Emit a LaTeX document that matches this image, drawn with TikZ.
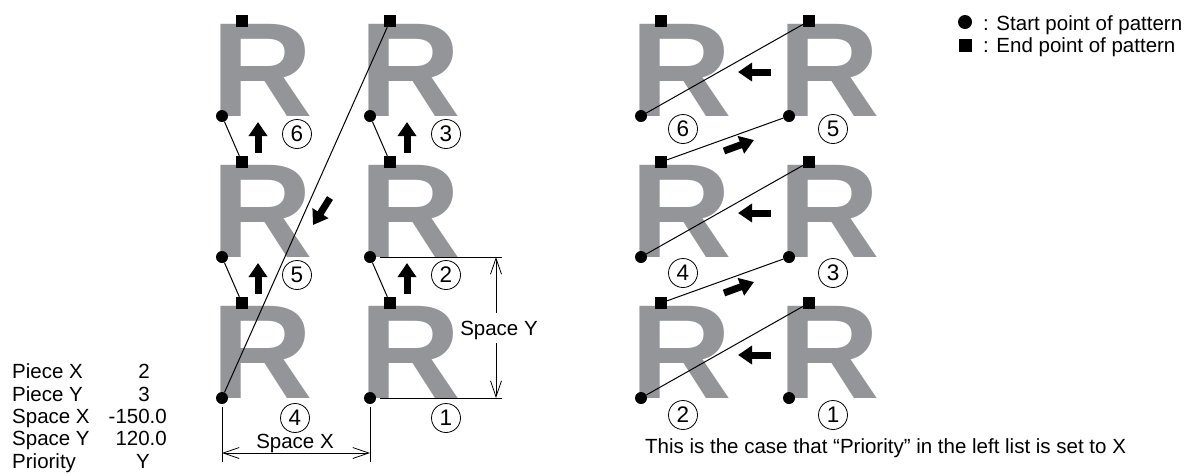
\documentclass[tikz,border=0pt]{standalone}
\usepackage{fontspec}
\setmainfont{Liberation Sans}
\usetikzlibrary{arrows.meta}
\definecolor{rgray}{RGB}{147,149,152}
\tikzset{
  Rglyph/.style={inner sep=0pt, anchor=base west, text=rgray, font=\fontsize{134}{134}\selectfont\bfseries},
  startpt/.style={circle, fill=black, inner sep=0pt, minimum size=12pt},
  endpt/.style={rectangle, fill=black, inner sep=0pt, minimum size=12pt},
  conn/.style={line width=1pt},
  bigarrow/.style={line width=7pt, -{Triangle[width=18pt,length=14pt]}},
  cring/.style={circle, draw, line width=0.8pt, minimum size=29pt, inner sep=0pt},
  cdigit/.style={inner sep=0pt, font=\fontsize{22.5}{22.5}\selectfont},
  dimline/.style={line width=0.8pt},
  dimarrow/.style={line width=0.8pt, {Straight Barb[length=16pt,width=11pt]}-{Straight Barb[length=16pt,width=11pt]}},
  dimtip/.style={line width=0.8pt, -{Straight Barb[length=16pt,width=11pt]}},
  lbl/.style={inner sep=0pt, font=\fontsize{20.5}{22}\selectfont},
}
\newcommand\Rglyphat[3]{\node[Rglyph] (#1) at ({#2-10.3},#3) {\scalebox{1.05}[1]{R}};}
\newcommand\cnumat[4]{\node[cring] (#1) at (#2,#3) {}; \node[cdigit] (#1t) at (#1.center) {#4};}
\begin{document}
\begin{tikzpicture}[x=1pt,y=-1pt]
\useasboundingbox (0,0) rectangle (1203,475);
% ---------- left layout ----------
\Rglyphat{laR1}{222}{116}
\Rglyphat{laR2}{222}{257}
\Rglyphat{laR3}{222}{398}
\Rglyphat{lbR1}{370}{116}
\Rglyphat{lbR2}{370}{257}
\Rglyphat{lbR3}{370}{398}
\node[startpt] (laS1) at (222,116) {};
\node[startpt] (laS2) at (222,257) {};
\node[startpt] (laS3) at (222,398) {};
\node[startpt] (lbS1) at (370,116) {};
\node[startpt] (lbS2) at (370,257) {};
\node[startpt] (lbS3) at (370,398) {};
\node[endpt] (laE1) at (242,21) {};
\node[endpt] (laE2) at (242,162) {};
\node[endpt] (laE3) at (242,303) {};
\node[endpt] (lbE1) at (390,21) {};
\node[endpt] (lbE2) at (390,162) {};
\node[endpt] (lbE3) at (390,303) {};
\draw[conn] (laS1) -- (laE2);
\draw[conn] (laS2) -- (laE3);
\draw[conn] (laS3) -- (lbE1);
\draw[conn] (lbS1) -- (lbE2);
\draw[conn] (lbS2) -- (lbE3);
\cnumat{ln6}{297}{134}{6}
\cnumat{ln5}{297}{275}{5}
\cnumat{ln4}{295}{418}{4}
\cnumat{ln3}{446}{134}{3}
\cnumat{ln2}{446}{275}{2}
\cnumat{ln1}{446}{418}{1}
\coordinate (lu1t) at (258,153); \coordinate (lu1h) at (258,122);
\coordinate (lu2t) at (258,294); \coordinate (lu2h) at (258,263);
\coordinate (lu3t) at (407,153); \coordinate (lu3h) at (407,122);
\coordinate (lu4t) at (407,294); \coordinate (lu4h) at (407,263);
\coordinate (ldt) at (330,198); \coordinate (ldh) at (313,225);
\draw[bigarrow] (lu1t) -- (lu1h);
\draw[bigarrow] (lu2t) -- (lu2h);
\draw[bigarrow] (lu3t) -- (lu3h);
\draw[bigarrow] (lu4t) -- (lu4h);
\draw[bigarrow] (ldt) -- (ldh);
% dimension Space X
\coordinate (sxa1) at (222,407); \coordinate (sxa2) at (222,462);
\coordinate (sxb1) at (370,407); \coordinate (sxb2) at (370,462);
\coordinate (sxl) at (222,453); \coordinate (sxr) at (370,453);
\draw[dimline] (sxa1) -- (sxa2);
\draw[dimline] (sxb1) -- (sxb2);
\draw[dimarrow] (sxl) -- (sxr);
\node[lbl, anchor=base] (sxt) at (295,448) {Space X};
% dimension Space Y
\coordinate (sya1) at (380,257); \coordinate (sya2) at (502,257);
\coordinate (syb1) at (380,398); \coordinate (syb2) at (502,398);
\coordinate (syt1) at (496,257); \coordinate (syt2) at (496,313);
\coordinate (syb3) at (496,343); \coordinate (syb4) at (496,398);
\draw[dimline] (sya1) -- (sya2);
\draw[dimline] (syb1) -- (syb2);
\draw[dimtip] (syt2) -- (syt1);
\draw[dimtip] (syb3) -- (syb4);
\node[lbl, anchor=base] (syt) at (499,335) {Space Y};
% list
\node[lbl, anchor=base west] (k1) at (12,378) {Piece X};
\node[lbl, anchor=base west] (k2) at (12,401) {Piece Y};
\node[lbl, anchor=base west] (k3) at (12,423) {Space X};
\node[lbl, anchor=base west] (k4) at (12,445) {Space Y};
\node[lbl, anchor=base west] (k5) at (12,468) {Priority};
\node[lbl, anchor=base east] (v1) at (150,378) {2};
\node[lbl, anchor=base east] (v2) at (150,401) {3};
\node[lbl, anchor=base east] (v3) at (167,423) {-150.0};
\node[lbl, anchor=base east] (v4) at (167,445) {120.0};
\node[lbl, anchor=base east] (v5) at (150,468) {Y};
% ---------- right layout ----------
\Rglyphat{raR1}{641}{116}
\Rglyphat{raR2}{641}{257}
\Rglyphat{raR3}{641}{398}
\Rglyphat{rbR1}{789}{116}
\Rglyphat{rbR2}{789}{257}
\Rglyphat{rbR3}{789}{398}
\node[startpt] (raS1) at (641,116) {};
\node[startpt] (raS2) at (641,257) {};
\node[startpt] (raS3) at (641,398) {};
\node[startpt] (rbS1) at (789,116) {};
\node[startpt] (rbS2) at (789,257) {};
\node[startpt] (rbS3) at (789,398) {};
\node[endpt] (raE1) at (661,21) {};
\node[endpt] (raE2) at (661,162) {};
\node[endpt] (raE3) at (661,303) {};
\node[endpt] (rbE1) at (809,21) {};
\node[endpt] (rbE2) at (809,162) {};
\node[endpt] (rbE3) at (809,303) {};
\draw[conn] (raS1) -- (rbE1);
\draw[conn] (rbS1) -- (raE2);
\draw[conn] (raS2) -- (rbE2);
\draw[conn] (rbS2) -- (raE3);
\draw[conn] (raS3) -- (rbE3);
\cnumat{rn6}{683}{129}{6}
\cnumat{rn5}{833}{129}{5}
\cnumat{rn4}{683}{273}{4}
\cnumat{rn3}{833}{273}{3}
\cnumat{rn2}{683}{415}{2}
\cnumat{rn1}{833}{415}{1}
\coordinate (rl1t) at (771,72); \coordinate (rl1h) at (738,72);
\coordinate (rl2t) at (771,213); \coordinate (rl2h) at (738,213);
\coordinate (rl3t) at (771,355); \coordinate (rl3h) at (738,355);
\coordinate (rr1t) at (724,151); \coordinate (rr1h) at (754,140);
\coordinate (rr2t) at (724,293); \coordinate (rr2h) at (754,282);
\draw[bigarrow] (rl1t) -- (rl1h);
\draw[bigarrow] (rl2t) -- (rl2h);
\draw[bigarrow] (rl3t) -- (rl3h);
\draw[bigarrow] (rr1t) -- (rr1h);
\draw[bigarrow] (rr2t) -- (rr2h);
\node[lbl, anchor=base west] (cap) at (645,453) {This is the case that “Priority” in the left list is set to X};
% legend
\node[startpt, minimum size=14pt] (lgS) at (965,22) {};
\node[endpt, minimum size=13pt] (lgE) at (965,45) {};
\node[lbl, anchor=base west] (lgSt) at (983,30) {: Start point of pattern};
\node[lbl, anchor=base west] (lgEt) at (983,52) {: End point of pattern};
\end{tikzpicture}
\end{document}
